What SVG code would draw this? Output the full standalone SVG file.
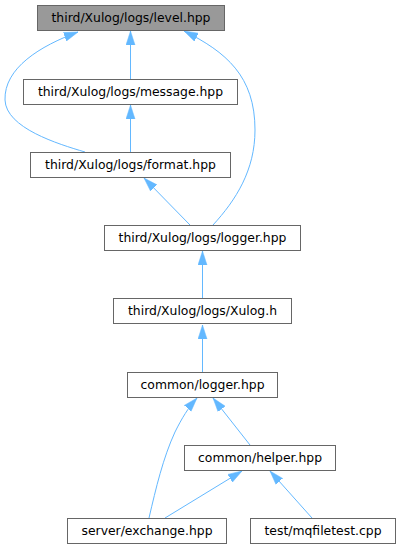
<svg xmlns="http://www.w3.org/2000/svg" width="400" height="549" viewBox="0 0 400 549">
<style>
.n rect{fill:#ffffff;stroke:#666666;stroke-width:1}
.n.cur rect{fill:#999999}
.n text{font-family:"DejaVu Sans",sans-serif;font-size:12.4px;fill:#000000;text-anchor:middle}
.e path{fill:none;stroke:#63b8ff;stroke-width:1}
</style>
<defs>
<marker id="ah" markerUnits="userSpaceOnUse" markerWidth="15" markerHeight="10" viewBox="0 0 15 10" refX="14" refY="5" orient="auto">
<path d="M0,0.5 L14,5 L0,9.5 Z" fill="#63b8ff" stroke="#63b8ff" stroke-width="0.5"/>
</marker>
</defs>
<rect width="400" height="549" fill="#ffffff"/>
<g id="edges" class="e">
<path d="M130.5,79 L130.5,31" marker-end="url(#ah)"/>
<path d="M130.5,152 L130.5,105" marker-end="url(#ah)"/>
<path d="M85,152 C58,144 6,128 5,100 C4,68 40,46 78,32" marker-end="url(#ah)"/>
<path d="M213,225 C236,200 255,170 255,130 C255,76 226,52 184,31" marker-end="url(#ah)"/>
<path d="M190,225 L144,178" marker-end="url(#ah)"/>
<path d="M202.5,298 L202.5,251" marker-end="url(#ah)"/>
<path d="M202.5,372 L202.5,325" marker-end="url(#ah)"/>
<path d="M250,445 L213,398" marker-end="url(#ah)"/>
<path d="M149,518 C156,488 163,458 175,432 C182,418 188,408 197,398" marker-end="url(#ah)"/>
<path d="M165,518 L242,471" marker-end="url(#ah)"/>
<path d="M312,518 L270,471" marker-end="url(#ah)"/>
</g>
<g id="node_level" class="n cur"><rect x="37.5" y="5.5" width="187" height="25"/><text x="131" y="22">third/Xulog/logs/level.hpp</text></g>
<g id="node_message" class="n"><rect x="23.5" y="79.5" width="214" height="25"/><text x="130.5" y="96">third/Xulog/logs/message.hpp</text></g>
<g id="node_format" class="n"><rect x="30.5" y="152.5" width="200" height="25"/><text x="130.5" y="169">third/Xulog/logs/format.hpp</text></g>
<g id="node_tlogger" class="n"><rect x="104.5" y="225.5" width="196" height="25"/><text x="202.5" y="242">third/Xulog/logs/logger.hpp</text></g>
<g id="node_xulog" class="n"><rect x="113.5" y="298.5" width="178" height="25"/><text x="202.5" y="315">third/Xulog/logs/Xulog.h</text></g>
<g id="node_clogger" class="n"><rect x="127.5" y="372.5" width="150" height="25"/><text x="202.5" y="389">common/logger.hpp</text></g>
<g id="node_helper" class="n"><rect x="184.5" y="445.5" width="151" height="25"/><text x="260" y="462">common/helper.hpp</text></g>
<g id="node_exchange" class="n"><rect x="67.5" y="518.5" width="159" height="25"/><text x="147" y="535">server/exchange.hpp</text></g>
<g id="node_mqfiletest" class="n"><rect x="250.5" y="518.5" width="145" height="25"/><text x="323" y="535">test/mqfiletest.cpp</text></g>
</svg>
